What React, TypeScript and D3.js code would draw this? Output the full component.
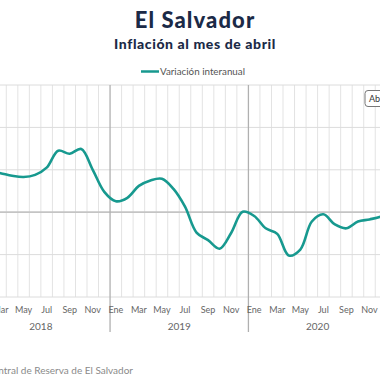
import React from "react";
import * as d3 from "d3";

const monthNames = ["Ene","Feb","Mar","Abr","May","Jun","Jul","Ago","Sep","Oct","Nov","Dic"];
const years = ["2018", "2019", "2020", "2021"];
const monthsPerYear = [12, 12, 12, 4];
const values = [
  1.0, 0.97, 0.92, 0.86, 0.83, 0.88, 1.05, 1.45, 1.38, 1.49, 1.0, 0.48,
  0.26, 0.34, 0.62, 0.75, 0.79, 0.55, 0.13, -0.48, -0.66, -0.86, -0.49, 0.01,
  -0.09, -0.38, -0.51, -1.02, -0.88, -0.22, -0.05, -0.29, -0.38, -0.22, -0.17, -0.1,
  0.05, 0.2, 0.5, 1.0,
];
const yTicks = [-2, -1, 0, 1, 2, 3];

const categories: { key: string; month: string; year: string; mi: number }[] = [];
years.forEach((y, yi) => {
  for (let m = 0; m < monthsPerYear[yi]; m++) {
    categories.push({ key: `${y}-${m}`, month: monthNames[m], year: y, mi: m });
  }
});

const TEAL = "#17998f";
const FONT = "Lato, 'Open Sans', sans-serif";

export default function App() {
  const step = 11.53;
  const x0 = -28.3;
  const x = d3
    .scaleBand<string>()
    .domain(categories.map((c) => c.key))
    .range([x0, x0 + step * categories.length])
    .paddingInner(0)
    .paddingOuter(0);
  const y = d3.scaleLinear().domain([-2, 3]).range([297, 85]);
  const bw = x.bandwidth();

  const line = d3
    .line<number>()
    .x((_, i) => (x(categories[i].key) as number) + bw / 2)
    .y((d) => y(d))
    .curve(d3.curveCatmullRom.alpha(0.5));

  const yearStarts: { year: string; start: number; end: number }[] = [];
  years.forEach((yr) => {
    const cs = categories.filter((c) => c.year === yr);
    const s = x(cs[0].key) as number;
    const e = (x(cs[cs.length - 1].key) as number) + bw;
    yearStarts.push({ year: yr, start: s, end: e });
  });

  return (
    <svg
      width={380}
      height={380}
      style={{ position: "absolute", left: 0, top: 0, background: "#fff" }}
    >
      <rect x={0} y={0} width={380} height={380} fill="#fff" />
      <text x={195} y={27.5} textAnchor="middle" fontFamily={FONT} fontWeight={900} fontSize={22} letterSpacing={1.1} fill="#1b2a47">
        El Salvador
      </text>
      <text x={195} y={48.5} textAnchor="middle" fontFamily={FONT} fontWeight={900} fontSize={14} letterSpacing={0.6} fill="#1b2a47">
        Inflación al mes de abril
      </text>
      {/* legend */}
      <line x1={141} x2={159} y1={71.5} y2={71.5} stroke={TEAL} strokeWidth={2.5} />
      <text x={160} y={75} fontFamily={FONT} fontSize={9.8} fill="#555">
        Variación interanual
      </text>

      {/* vertical gridlines */}
      {categories.map((c, i) => {
        const xv = x(c.key) as number;
        if (c.mi === 0) return null;
        return <line key={"v" + i} x1={xv} x2={xv} y1={85} y2={297} stroke="#e3e3e3" strokeWidth={1} />;
      })}
      {/* horizontal gridlines */}
      {yTicks.map((t) => (
        <line
          key={"h" + t}
          x1={0}
          x2={380}
          y1={y(t)}
          y2={y(t)}
          stroke={t === 0 ? "#c4c4c4" : "#dcdcdc"}
          strokeWidth={t === 0 ? 1.8 : 1}
        />
      ))}
      {/* year separators */}
      {yearStarts.map((ys) => (
        <line key={"s" + ys.year} x1={ys.start} x2={ys.start} y1={85} y2={332} stroke="#b0b0b0" strokeWidth={1.3} />
      ))}

      {/* line */}
      <path d={line(values) || ""} fill="none" stroke={TEAL} strokeWidth={2.6} strokeLinejoin="round" />

      {/* month labels */}
      {categories.map((c, i) =>
        c.mi % 2 === 0 ? (
          <text
            key={"m" + i}
            x={(x(c.key) as number) + bw / 2}
            y={312.5}
            textAnchor="middle"
            fontFamily={FONT}
            fontSize={9}
            fill="#666"
          >
            {c.month}
          </text>
        ) : null
      )}
      {yearStarts.map((ys) => (
        <text
          key={"y" + ys.year}
          x={(ys.start + ys.end) / 2}
          y={329.5}
          textAnchor="middle"
          fontFamily={FONT}
          fontSize={10}
          fill="#666"
        >
          {ys.year}
        </text>
      ))}

      {/* annotation box */}
      <rect x={365} y={90.5} width={60} height={16} rx={3} fill="#fff" stroke="#777" strokeWidth={1} />
      <text x={369} y={101.5} fontFamily={FONT} fontSize={9} fill="#333">
        Abril 2021
      </text>

      {/* source */}
      <text x={133} y={374} textAnchor="end" fontFamily={FONT} fontSize={10} fill="#8a8a8a">
        Fuente: Banco Central de Reserva de El Salvador
      </text>
    </svg>
  );
}
